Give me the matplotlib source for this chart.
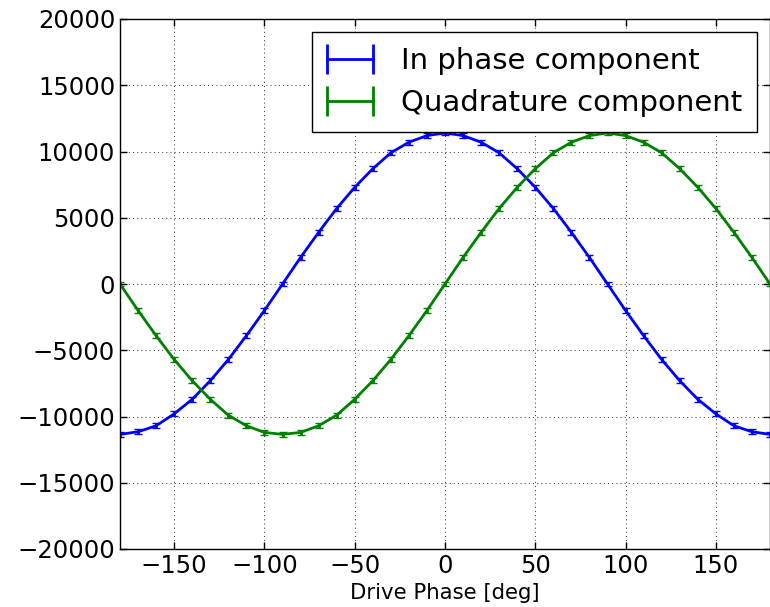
import numpy as np
import matplotlib
matplotlib.use('Agg')
import matplotlib.pyplot as plt
from matplotlib.lines import Line2D
from matplotlib.legend_handler import HandlerLine2D

phase = [-180, -170, -160, -150, -140, -130, -120, -110, -100, -90,
         -80, -70, -60, -50, -40, -30, -20, -10, 0, 10,
         20, 30, 40, 50, 60, 70, 80, 90, 100, 110,
         120, 130, 140, 150, 160, 170, 180]

in_phase = [-11350, -11150, -10700, -9800, -8700, -7300, -5700, -3900, -2000, 0,
            2000, 3900, 5700, 7300, 8700, 9900, 10700, 11200, 11400, 11200,
            10700, 9900, 8700, 7300, 5700, 3900, 2000, 0, -2000, -3900,
            -5700, -7300, -8700, -9800, -10700, -11150, -11350]

quadrature = [0, -2000, -3900, -5700, -7300, -8700, -9900, -10700, -11200, -11350,
              -11200, -10700, -9900, -8700, -7300, -5700, -3900, -2000, 0, 2000,
              3900, 5700, 7300, 8700, 9900, 10700, 11200, 11400, 11200, 10700,
              9900, 8700, 7300, 5700, 3900, 2000, 0]

in_err = [180] * len(phase)
quad_err = [180] * len(phase)

labels = ['In phase component', 'Quadrature component']
colors = ['#0000ff', '#008000']

plt.rcParams['xtick.direction'] = 'in'
plt.rcParams['ytick.direction'] = 'in'
plt.rcParams['xtick.top'] = True
plt.rcParams['ytick.right'] = True

fig = plt.figure(figsize=(7.7, 6.07), dpi=100)
ax = fig.add_axes([120/770, 1 - 549/607, 650/770, 530/607])

ax.errorbar(phase, in_phase, yerr=in_err, color=colors[0], lw=2,
            capsize=3, capthick=1)
ax.errorbar(phase, quadrature, yerr=quad_err, color=colors[1], lw=2,
            capsize=3, capthick=1)

ax.set_xlim(-180, 180)
ax.set_ylim(-20000, 20000)
ax.set_xticks([-150, -100, -50, 0, 50, 100, 150])
ax.set_yticks(np.arange(-20000, 20001, 5000))
ax.tick_params(labelsize=17.5, length=5, width=1)
ax.set_xlabel('Drive Phase [deg]', fontsize=15.3)
ax.grid(True, color='0.25', linestyle=(0, (1, 3)), linewidth=0.75)
for s in ax.spines.values():
    s.set_linewidth(1)

# legend handles look like horizontal error bars: |---|
handles = [Line2D([], [], color=c, lw=2, marker='|', markersize=22,
                  markeredgewidth=2) for c in colors]
leg = ax.legend(handles, labels, loc='upper right', fontsize=21,
                fancybox=False, framealpha=1, edgecolor='black',
                borderaxespad=0.45, handlelength=1.6, numpoints=2,
                handletextpad=0.95, borderpad=0.5, labelspacing=0.5,
                handler_map={Line2D: HandlerLine2D(marker_pad=0)})
leg.get_frame().set_linewidth(1)

fig.savefig('out.png', dpi=100)
